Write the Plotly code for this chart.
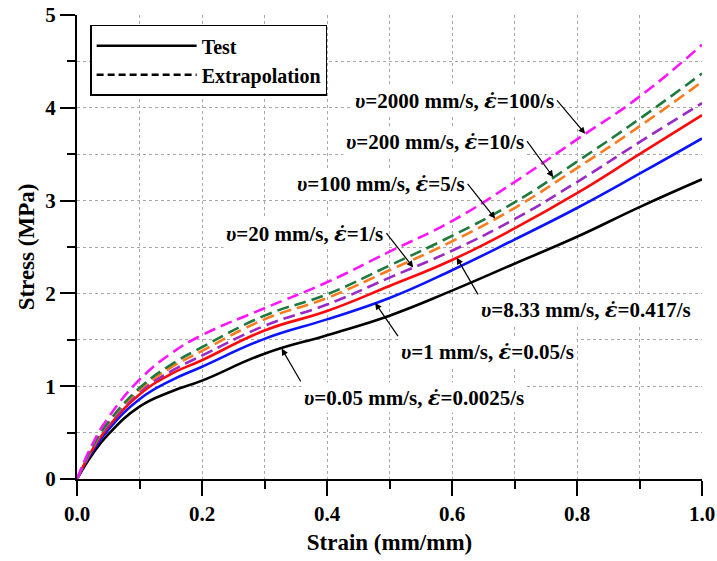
import numpy as np
import plotly.graph_objects as go

# ---------------- data ----------------
strain = [0, 0.025, 0.05, 0.1, 0.15, 0.2, 0.3, 0.4, 0.5, 0.6, 0.7, 0.8, 0.9, 1.0]

stress_v0_05 = [0, 0.27, 0.48, 0.78, 0.94, 1.06, 1.35, 1.55, 1.76, 2.03, 2.32, 2.61, 2.93, 3.23]
stress_v1 = [0, 0.30, 0.53, 0.86, 1.06, 1.21, 1.51, 1.72, 1.95, 2.25, 2.58, 2.92, 3.29, 3.67]
stress_v8_33 = [0, 0.32, 0.56, 0.91, 1.13, 1.28, 1.60, 1.81, 2.08, 2.36, 2.70, 3.08, 3.50, 3.92]
stress_v20 = [0, 0.33, 0.58, 0.94, 1.16, 1.33, 1.65, 1.88, 2.17, 2.46, 2.80, 3.20, 3.63, 4.05]
stress_v100 = [0, 0.34, 0.60, 0.96, 1.20, 1.38, 1.72, 1.95, 2.25, 2.56, 2.92, 3.35, 3.80, 4.28]
stress_v200 = [0, 0.35, 0.61, 0.98, 1.23, 1.42, 1.76, 1.99, 2.30, 2.62, 2.98, 3.42, 3.88, 4.37]
stress_v2000 = [0, 0.38, 0.66, 1.07, 1.35, 1.55, 1.84, 2.12, 2.45, 2.78, 3.20, 3.66, 4.12, 4.68]

EDOT = '<span style="font-family:DejaVu Serif">ε̇</span>'
labels = [
    f"<i>υ</i>=0.05 mm/s, <i>{EDOT}</i>=0.0025/s",
    f"<i>υ</i>=1 mm/s, <i>{EDOT}</i>=0.05/s",
    f"<i>υ</i>=8.33 mm/s, <i>{EDOT}</i>=0.417/s",
    f"<i>υ</i>=20 mm/s, <i>{EDOT}</i>=1/s",
    f"<i>υ</i>=100 mm/s, <i>{EDOT}</i>=5/s",
    f"<i>υ</i>=200 mm/s, <i>{EDOT}</i>=10/s",
    f"<i>υ</i>=2000 mm/s, <i>{EDOT}</i>=100/s",
]
series = [stress_v0_05, stress_v1, stress_v8_33, stress_v20, stress_v100, stress_v200, stress_v2000]
kinds = ["Test", "Test", "Test", "Extrapolation", "Extrapolation", "Extrapolation", "Extrapolation"]

# arrow tip strain on each curve, and label (arrow tail) positions
tip_strain = [0.3275, 0.477, 0.6075, 0.538, 0.669, 0.762, 0.813]
tail_x = [0.358, 0.5136, 0.6416, 0.495, 0.625, 0.72, 0.768]
tail_y = [1.05, 1.54, 1.99, 2.65, 3.18, 3.64, 4.08]

x_ticks = [0.0, 0.2, 0.4, 0.6, 0.8, 1.0]
y_ticks = [0, 1, 2, 3, 4, 5]

# ---------------- styles ----------------
colors = ["#000000", "#0a14ff", "#ff0a0a", "#9b28c8", "#ff7a1f", "#1e7a3c", "#ff14ff"]
anchors_x = ["left", "left", "left", "right", "right", "right", "right"]
anchors_y = ["top", "top", "top", "middle", "middle", "middle", "middle"]
FONT = "Liberation Serif, Times New Roman, serif"
GRID = "#a8a8a8"

fig = go.Figure()
for s, c, k in zip(series, colors, kinds):
    fig.add_trace(go.Scatter(
        x=strain, y=s, mode="lines", showlegend=False,
        line=dict(color=c, width=2.6, shape="spline", smoothing=1.3,
                  dash="solid" if k == "Test" else "12px,6px"),
        hoverinfo="skip",
    ))

# legend entries
fig.add_trace(go.Scatter(x=[None], y=[None], mode="lines", name="Test",
                         line=dict(color="black", width=2.5)))
fig.add_trace(go.Scatter(x=[None], y=[None], mode="lines", name="Extrapolation",
                         line=dict(color="black", width=2.5, dash="7px,4px")))

for i, lab in enumerate(labels):
    tip_y = float(np.interp(tip_strain[i], strain, series[i]))
    fig.add_annotation(
        x=tip_strain[i], y=tip_y, xref="x", yref="y",
        ax=tail_x[i], ay=tail_y[i], axref="x", ayref="y",
        text=lab, showarrow=True, arrowhead=2, arrowsize=1.1, arrowwidth=1.2,
        arrowcolor="black", standoff=0, startstandoff=0,
        xanchor=anchors_x[i], yanchor=anchors_y[i],
        bgcolor="white", borderpad=2,
        font=dict(family=FONT, size=21, color="black", weight="bold"),
    )

fig.update_layout(
    width=717, height=561,
    margin=dict(l=77, r=15, t=15, b=82),
    paper_bgcolor="white", plot_bgcolor="white",
    font=dict(family=FONT, size=20, color="black", weight="bold"),
    legend=dict(x=0.021, y=0.979, xanchor="left", yanchor="top",
                bgcolor="white", bordercolor="black", borderwidth=1.5,
                font=dict(family=FONT, size=20, color="black", weight="bold"),
                itemwidth=100, tracegroupgap=0, entrywidth=160),
    xaxis=dict(
        range=[0, 1.0], tickvals=x_ticks, ticktext=[f"{v:.1f}" for v in x_ticks],
        automargin=False,
        ticks="outside", ticklen=15, tickwidth=1.5, tickcolor="black",
        minor=dict(dtick=0.1, ticks="outside", ticklen=8, tickwidth=1.5, tickcolor="black",
                   showgrid=True, gridcolor=GRID, gridwidth=1, griddash="dot"),
        showgrid=True, gridcolor=GRID, gridwidth=1, griddash="dot",
        showline=True, linecolor="black", linewidth=2, zeroline=False,
        title=dict(text="Strain (mm/mm)", font=dict(family=FONT, size=23, weight="bold"), standoff=9),
        tickfont=dict(family=FONT, size=21, weight="bold"),
    ),
    yaxis=dict(
        range=[0, 5], tickvals=y_ticks,
        automargin=False,
        ticks="outside", ticklen=15, tickwidth=1.5, tickcolor="black",
        minor=dict(dtick=0.5, ticks="outside", ticklen=8, tickwidth=1.5, tickcolor="black",
                   showgrid=True, gridcolor=GRID, gridwidth=1, griddash="dot"),
        showgrid=True, gridcolor=GRID, gridwidth=1, griddash="dot",
        showline=True, linecolor="black", linewidth=2, zeroline=False,
        title=dict(text="Stress (MPa)", font=dict(family=FONT, size=23, weight="bold"), standoff=4),
        tickfont=dict(family=FONT, size=21, weight="bold"),
    ),
)

fig.write_html("out.html")
